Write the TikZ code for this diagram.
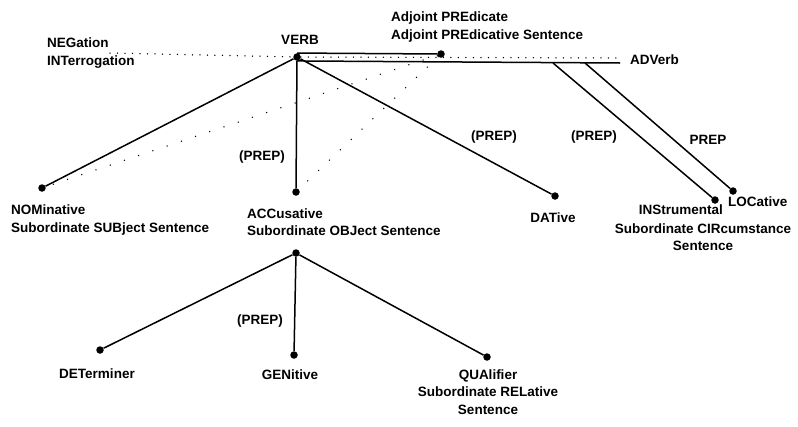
\documentclass[tikz,border=0pt]{standalone}
\usepackage{fontspec}
\setmainfont{Liberation Sans}
\begin{document}
\begin{tikzpicture}[x=1pt,y=-1pt,
    pt/.style={circle,fill=black,inner sep=0pt,minimum size=7.5pt},
    lbl/.style={font=\bfseries\fontsize{13.5}{17.5}\selectfont,inner sep=0pt},
    arc/.style={line width=1.5pt},
    dots/.style={line width=1.5pt,line cap=round,dash pattern=on 0pt off 7.5pt},
    sparse/.style={line width=1.5pt,line cap=round,dash pattern=on 0pt off 15pt}]
    \useasboundingbox (0,0) rectangle (798,426);

    % points of the tree
    \node[pt] (verb) at (297,57) {};
    \node[pt] (apre) at (441,54) {};
    \node[pt] (nom) at (42,188) {};
    \node[pt] (accin) at (296,192) {};
    \node[pt] (accout) at (296,253) {};
    \node[pt] (dat) at (555,196) {};
    \node[pt] (ins) at (715,200) {};
    \node[pt] (loc) at (733,191) {};
    \node[pt] (det) at (100,350) {};
    \node[pt] (gen) at (294,355) {};
    \node[pt] (qua) at (487,357) {};
    \coordinate (negend) at (110,53);
    \coordinate (advend) at (620,63);
    \coordinate (advdots) at (620,58);
    \coordinate (insfork) at (553,63);
    \coordinate (locfork) at (585,63);

    \draw[dots] (negend) -- (verb);
    \draw[dots] (verb) -- (advdots);
    \draw[arc] (verb.north) -- (apre);
    \draw[arc] (verb.south) -- (advend);
    \draw[arc] (insfork) -- (ins);
    \draw[arc] (locfork) -- (loc);
    \draw[arc] (verb) -- (nom);
    \draw[arc] (verb) -- (accin);
    \draw[arc] (verb) -- (dat);
    \draw[sparse] (apre) -- (nom);
    \draw[sparse] (apre) -- (accin);
    \draw[arc] (accout) -- (det);
    \draw[arc] (accout) -- (gen);
    \draw[arc] (accout) -- (qua);

    \node[lbl] (verblbl) at (300,40) {VERB};
    \node[lbl,anchor=west,align=left] (neglbl) at (47,53) {NEGation\\INTerrogation};
    \node[lbl,anchor=west,align=left] (aprelbl) at (391,27) {Adjoint PREdicate\\Adjoint PREdicative Sentence};
    \node[lbl,anchor=west] (advlbl) at (630,60) {ADVerb};
    \node[lbl,anchor=west,align=left] (nomlbl) at (11,220) {NOMinative\\Subordinate SUBject Sentence};
    \node[lbl,anchor=west,align=left] (acclbl) at (247,222) {ACCusative\\Subordinate OBJect Sentence};
    \node[lbl] (datlbl) at (553,218) {DATive};
    \node[lbl,anchor=east] (inslbl) at (723,210) {INStrumental};
    \node[lbl,align=center] (circlbl) at (703,237) {Subordinate CIRcumstance\\Sentence};
    \node[lbl,anchor=west] (loclbl) at (728,202) {LOCative};

    \node[lbl] (prepacc) at (262,157) {(PREP)};
    \node[lbl] (prepdat) at (494,137) {(PREP)};
    \node[lbl] (prepins) at (594,137) {(PREP)};
    \node[lbl] (preploc) at (708,140) {PREP};
    \node[lbl] (prepgen) at (260,321) {(PREP)};

    \node[lbl] (detlbl) at (97,374) {DETerminer};
    \node[lbl] (genlbl) at (290,375) {GENitive};
    \node[lbl,align=center] (qualbl) at (488,392) {QUAlifier\\Subordinate RELative\\Sentence};
\end{tikzpicture}
\end{document}
